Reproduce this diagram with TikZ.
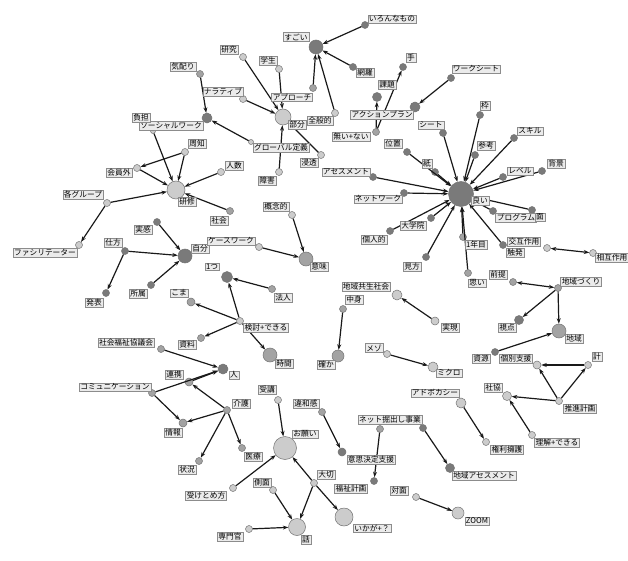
\documentclass[tikz,border=0pt]{standalone}
\usepackage{fontspec}
\newfontfamily\jp{Noto Sans CJK JP}
\usetikzlibrary{arrows.meta}
\definecolor{cl}{gray}{0.80}
\definecolor{cm}{gray}{0.64}
\definecolor{cd}{gray}{0.48}
\definecolor{lbf}{gray}{0.92}
\definecolor{lbd}{gray}{0.55}
\definecolor{cbd}{gray}{0.45}
\newcommand\ndc[5]{\node[cn,minimum size=#4pt,fill=#5] (#1) at (#2,#3) {};}
\newcommand\ndl[4]{\node[lb] (#1L) at (#2,#3) {#4};}
\tikzset{
  cn/.style={circle,draw=cbd,line width=0.5pt,inner sep=0pt},
  lb/.style={draw=lbd,fill=lbf,line width=0.4pt,inner xsep=1.2pt,inner ysep=0.9pt,
    font=\jp\fontsize{7.7}{8.5}\selectfont,text=black},
  ed/.style={-{Stealth[length=5.5pt,width=4pt]},line width=1.2pt,draw=black!90},
  edd/.style={{Stealth[length=5.5pt,width=4pt]}-{Stealth[length=5.5pt,width=4pt]},line width=1.2pt,draw=black!90}
}
\begin{document}
\begin{tikzpicture}[x=1pt,y=-1pt]
\useasboundingbox[fill=white] (0,0) rectangle (628,561);
% circles
\ndc{sugoi}{316}{47}{14}{cd}
\ndc{ironna}{365}{25}{7}{cd}
\ndc{moura}{353}{67}{7}{cd}
\ndc{approach}{313}{88}{7}{cm}
\ndc{zenpan}{335}{113}{7}{cl}
\ndc{bubun}{283}{117}{16}{cl}
\ndc{kenkyu}{243}{57}{7}{cl}
\ndc{gakusei}{279}{69}{7}{cl}
\ndc{narrative}{243}{99}{7}{cl}
\ndc{global}{251}{142}{5}{cl}
\ndc{shogai}{279}{172}{7}{cl}
\ndc{shinto}{321}{155}{7}{cl}
\ndc{kikubari}{200}{74}{7}{cm}
\ndc{sw}{207}{118}{10}{cd}
\ndc{futan}{153}{131}{5}{cl}
\ndc{kenshu}{176}{190}{18}{cl}
\ndc{shuchi}{185}{152}{7}{cl}
\ndc{kaiingai}{137}{168}{7}{cl}
\ndc{kakugroup}{107}{203}{7}{cl}
\ndc{facil}{79}{245}{7}{cl}
\ndc{ninzu}{221}{172}{7}{cl}
\ndc{shakai}{230}{211}{7}{cm}
\ndc{jibun}{185}{256}{14}{cd}
\ndc{jikkan}{157}{222}{7}{cd}
\ndc{shikata}{125}{251}{7}{cd}
\ndc{happyo}{106}{293}{7}{cd}
\ndc{shozoku}{151}{285}{7}{cd}
\ndc{casework}{259}{247}{7}{cl}
\ndc{imi}{306}{259}{14}{cm}
\ndc{gainen}{292}{215}{7}{cl}
\ndc{hitotsu}{227}{277}{11}{cd}
\ndc{hojin}{272}{289}{7}{cm}
\ndc{kento}{240}{321}{7}{cl}
\ndc{koma}{191}{302}{8}{cm}
\ndc{shiryo}{201}{338}{7}{cm}
\ndc{jikan}{270}{355}{14}{cm}
\ndc{shakyokai}{161}{349}{7}{cm}
\ndc{hito}{223}{369}{10}{cd}
\ndc{renkei}{189}{382}{8}{cm}
\ndc{comm}{152}{393}{7}{cm}
\ndc{kaigo}{227}{410}{7}{cm}
\ndc{joho}{183}{423}{8}{cm}
\ndc{jokyo}{199}{461}{7}{cm}
\ndc{iryo}{242}{448}{7}{cm}
\ndc{juko}{278}{400}{7}{cl}
\ndc{onegai}{285}{448}{23}{cl}
\ndc{uketome}{233}{488}{7}{cl}
\ndc{taisetsu}{314}{483}{7}{cl}
\ndc{sokumen}{273}{490}{7}{cl}
\ndc{hanashi}{297}{527}{17}{cl}
\ndc{senmon}{249}{529}{7}{cl}
\ndc{ikaga}{344}{517}{18}{cl}
\ndc{iwakan}{322}{412}{7}{cm}
\ndc{ishikettei}{342}{452}{8}{cd}
\ndc{netA}{380}{429}{7}{cm}
\ndc{netB}{423}{428}{7}{cd}
\ndc{fukushi}{374}{481}{7}{cd}
\ndc{chiikiassess}{450}{468}{9}{cd}
\ndc{taimen}{416}{497}{7}{cl}
\ndc{zoom}{458}{513}{12}{cl}
\ndc{advocacy}{461}{403}{10}{cl}
\ndc{kenri}{486}{442}{7}{cl}
\ndc{shakyo}{507}{396}{9}{cl}
\ndc{rikai}{532}{435}{7}{cl}
\ndc{suishin}{559}{401}{7}{cl}
\ndc{kei}{588}{365}{7}{cl}
\ndc{kobetsu}{537}{365}{8}{cl}
\ndc{shigen}{495}{352}{7}{cd}
\ndc{chiiki}{559}{331}{14}{cm}
\ndc{chiikizukuri}{558}{288}{7}{cm}
\ndc{shiten}{519}{320}{9}{cd}
\ndc{zentei}{513}{282}{7}{cm}
\ndc{omoi}{468}{273}{7}{cm}
\ndc{ichinenme}{463}{237}{7}{cm}
\ndc{kohatsu}{503}{245}{7}{cd}
\ndc{kogo}{547}{248}{7}{cl}
\ndc{sogo}{593}{253}{7}{cl}
\ndc{yoi}{461}{194}{25}{cd}
\ndc{waku}{480}{115}{7}{cd}
\ndc{skill}{514}{138}{7}{cd}
\ndc{sanko}{475}{155}{7}{cd}
\ndc{haikei}{542}{171}{7}{cd}
\ndc{level}{503}{177}{7}{cd}
\ndc{program}{493}{211}{7}{cd}
\ndc{men}{532}{210}{7}{cd}
\ndc{kenmi}{426}{257}{7}{cd}
\ndc{daigakuin}{431}{218}{7}{cd}
\ndc{kojinteki}{390}{231}{7}{cd}
\ndc{network}{404}{193}{7}{cd}
\ndc{assess}{373}{177}{7}{cd}
\ndc{ichi}{407}{152}{7}{cd}
\ndc{kami}{435}{172}{7}{cd}
\ndc{sheet}{443}{133}{7}{cd}
\ndc{actionplan}{415}{107}{10}{cd}
\ndc{worksheet}{451}{78}{7}{cd}
\ndc{kadai}{377}{97}{9}{cd}
\ndc{te}{403}{67}{7}{cd}
\ndc{nai}{376}{132}{7}{cm}
\ndc{kyosei}{397}{295}{10}{cl}
\ndc{jitsugen}{435}{321}{8}{cl}
\ndc{nakami}{343}{309}{7}{cm}
\ndc{tashika}{338}{356}{12}{cm}
\ndc{meso}{387}{354}{7}{cl}
\ndc{micro}{433}{367}{10}{cl}
% edges
\foreach \a/\b in {ironna/sugoi,moura/sugoi,approach/sugoi,zenpan/sugoi,
  kenkyu/bubun,gakusei/bubun,narrative/bubun,shogai/bubun,shinto/bubun,
  global/sw,kikubari/sw,
  futan/kenshu,shuchi/kenshu,shuchi/kaiingai,kaiingai/kenshu,kakugroup/kenshu,
  kakugroup/facil,ninzu/kenshu,shakai/kenshu,
  jikkan/jibun,shikata/jibun,shikata/happyo,shozoku/jibun,
  casework/imi,gainen/imi,
  hojin/hitotsu,kento/hitotsu,kento/koma,kento/shiryo,kento/jikan,
  shakyokai/hito,comm/hito,renkei/hito,comm/joho,kaigo/joho,kaigo/jokyo,kaigo/iryo,kaigo/renkei,
  juko/onegai,uketome/onegai,taisetsu/onegai,taisetsu/hanashi,taisetsu/ikaga,
  sokumen/hanashi,senmon/hanashi,
  iwakan/ishikettei,netA/fukushi,netB/chiikiassess,taimen/zoom,advocacy/kenri,
  suishin/shakyo,rikai/shakyo,suishin/kobetsu,suishin/kei,kei/kobetsu,
  shigen/chiiki,chiikizukuri/chiiki,chiikizukuri/shiten,
  waku/yoi,skill/yoi,sanko/yoi,haikei/yoi,level/yoi,program/yoi,men/yoi,
  kohatsu/yoi,ichinenme/yoi,omoi/yoi,kenmi/yoi,daigakuin/yoi,kojinteki/yoi,
  network/yoi,assess/yoi,ichi/yoi,kami/yoi,sheet/yoi,
  worksheet/actionplan,nai/kadai,nai/te,
  jitsugen/kyosei,nakami/tashika,meso/micro}
  \draw[ed] (\a) -- (\b);
\draw[edd] (zentei) -- (chiikizukuri);
\draw[edd] (kogo) -- (sogo);
% labels
\ndl{sugoi}{296}{37}{すごい}
\ndl{ironna}{392}{19}{いろんなもの}
\ndl{moura}{365}{73}{網羅}
\ndl{approach}{292}{97}{アプローチ}
\ndl{zenpan}{320}{121}{全般的}
\ndl{bubun}{297}{125}{部分}
\ndl{kenkyu}{229}{50}{研究}
\ndl{gakusei}{268}{61}{学生}
\ndl{narrative}{223}{92}{ナラティブ}
\ndl{global}{281}{148}{グローバル定義}
\ndl{shogai}{267}{181}{障害}
\ndl{shinto}{309}{163}{浸透}
\ndl{kikubari}{183}{67}{気配り}
\ndl{sw}{171}{126}{ソーシャルワーク}
\ndl{futan}{141}{118}{負担}
\ndl{kenshu}{187}{202}{研修}
\ndl{shuchi}{197}{144}{周知}
\ndl{kaiingai}{119}{173}{会員外}
\ndl{kakugroup}{83}{195}{各グループ}
\ndl{facil}{45}{253}{ファシリテーター}
\ndl{ninzu}{234}{166}{人数}
\ndl{shakai}{219}{221}{社会}
\ndl{jibun}{200}{249}{自分}
\ndl{jikkan}{143}{230}{実感}
\ndl{shikata}{113}{243}{仕方}
\ndl{happyo}{94}{303}{発表}
\ndl{shozoku}{138}{294}{所属}
\ndl{casework}{231}{241}{ケースワーク}
\ndl{imi}{319}{267}{意味}
\ndl{gainen}{276}{207}{概念的}
\ndl{hitotsu}{212}{267}{1つ}
\ndl{hojin}{283}{298}{法人}
\ndl{kento}{266}{328}{検討+できる}
\ndl{koma}{179}{293}{こま}
\ndl{shiryo}{187}{345}{資料}
\ndl{jikan}{284}{364}{時間}
\ndl{shakyokai}{126}{343}{社会福祉協議会}
\ndl{hito}{234}{375}{人}
\ndl{renkei}{174}{375}{連携}
\ndl{comm}{115}{387}{コミュニケーション}
\ndl{kaigo}{241}{404}{介護}
\ndl{joho}{173}{433}{情報}
\ndl{jokyo}{187}{470}{状況}
\ndl{iryo}{253}{457}{医療}
\ndl{juko}{267}{390}{受講}
\ndl{onegai}{305}{434}{お願い}
\ndl{uketome}{206}{496}{受けとめ方}
\ndl{taisetsu}{326}{475}{大切}
\ndl{sokumen}{262}{483}{側面}
\ndl{hanashi}{306}{540}{話}
\ndl{senmon}{230}{537}{専門官}
\ndl{ikaga}{372}{528}{いかが+？}
\ndl{iwakan}{306}{404}{違和感}
\ndl{ishikettei}{371}{460}{意思決定支援}
\ndl{netA}{390}{420}{ネット掘出し事業}
\ndl{fukushi}{351}{489}{福祉計画}
\ndl{chiikiassess}{484}{476}{地域アセスメント}
\ndl{taimen}{399}{491}{対面}
\ndl{zoom}{477}{521}{ZOOM}
\ndl{advocacy}{435}{393}{アドボカシー}
\ndl{kenri}{507}{450}{権利擁護}
\ndl{shakyo}{493}{388}{社協}
\ndl{rikai}{557}{443}{理解+できる}
\ndl{suishin}{580}{409}{推進計画}
\ndl{kei}{597}{357}{計}
\ndl{kobetsu}{516}{359}{個別支援}
\ndl{shigen}{481}{359}{資源}
\ndl{chiiki}{574}{339}{地域}
\ndl{chiikizukuri}{581}{282}{地域づくり}
\ndl{shiten}{507}{328}{視点}
\ndl{zentei}{498}{275}{前提}
\ndl{omoi}{477}{283}{思い}
\ndl{ichinenme}{476}{245}{1年目}
\ndl{kohatsu}{515}{253}{触発}
\ndl{kogo}{524}{242}{交互作用}
\ndl{sogo}{612}{258}{相互作用}
\ndl{yoi}{480}{201}{良い}
\ndl{waku}{485}{106}{枠}
\ndl{skill}{530}{131}{スキル}
\ndl{sanko}{486}{146}{参考}
\ndl{haikei}{556}{164}{背景}
\ndl{level}{520}{171}{レベル}
\ndl{program}{516}{218}{プログラム}
\ndl{men}{540}{217}{面}
\ndl{kenmi}{412}{267}{見方}
\ndl{daigakuin}{413}{226}{大学院}
\ndl{kojinteki}{374}{240}{個人的}
\ndl{network}{378}{199}{ネットワーク}
\ndl{assess}{346}{172}{アセスメント}
\ndl{ichi}{393}{144}{位置}
\ndl{kami}{427}{164}{紙}
\ndl{sheet}{431}{125}{シート}
\ndl{actionplan}{382}{115}{アクションプラン}
\ndl{worksheet}{476}{69}{ワークシート}
\ndl{kadai}{387}{85}{課題}
\ndl{te}{411}{58}{手}
\ndl{nai}{351}{137}{無い+ない}
\ndl{kyosei}{366}{287}{地域共生社会}
\ndl{jitsugen}{450}{328}{実現}
\ndl{nakami}{354}{300}{中身}
\ndl{tashika}{326}{365}{確か}
\ndl{meso}{374}{348}{メゾ}
\ndl{micro}{449}{373}{ミクロ}
\end{tikzpicture}
\end{document}
